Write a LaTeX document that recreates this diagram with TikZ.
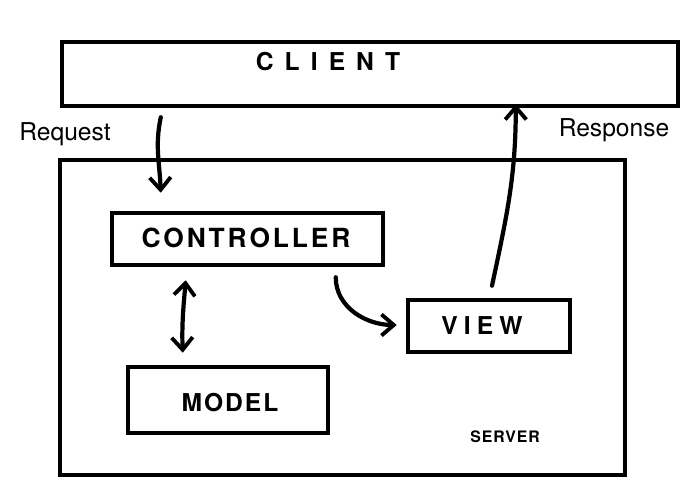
\documentclass[tikz,border=0pt]{standalone}
\usepackage{fontspec}
\setsansfont{TeX Gyre Heros}
\usepackage{tikz}
\usetikzlibrary{positioning,arrows.meta,calc}

\begin{document}
\begin{tikzpicture}[
  x=0.02cm,y=0.02cm,
  box/.style={rectangle,draw=black,line width=2.6pt,inner sep=0pt},
  boxtext/.style 2 args={font=\sffamily\bfseries\fontsize{#1}{#1}\selectfont\addfontfeature{LetterSpace=#2}},
  hand/.style={font=\sffamily\fontsize{14}{16}\selectfont},
  barb/.tip={Straight Barb[length=7pt,width=12pt,line width=2.2pt]},
  conn/.style={line width=2.4pt,line cap=round,-barb},
]
\useasboundingbox (0,0) rectangle (690,500);

% boxes
\node[box,minimum width=12.32cm,minimum height=1.28cm] (client) at (370,426) {};
\node[boxtext={14}{45}] at (328,438) {CLIENT};

\node[box,minimum width=11.3cm,minimum height=6.3cm] (server) at (342.5,182.5) {};
\node[boxtext={9}{6}] (srvlabel) at (505,63) {SERVER};

\node[box,minimum width=5.42cm,minimum height=1.04cm] (ctrl) at (247.5,261) {};
\node[boxtext={15}{11}] at (246,262) {CONTROLLER};

\node[box,minimum width=3.24cm,minimum height=1.04cm] (view) at (489,174) {};
\node[boxtext={14}{25}] at (482,174) {VIEW};

\node[box,minimum width=4.0cm,minimum height=1.32cm] (model) at (228,100) {};
\node[boxtext={14}{8}] at (230,97) {MODEL};

% labels
\node[hand] (req) at (65,366) {Request};
\node[hand] (resp) at (614,370) {Response};

% connectors
\coordinate (reqa) at ($(client.south west)+(101,-9)$);
\coordinate (reqb) at ($(ctrl.north west)+(51,18)$);
\draw[conn] (reqa) to[out=258,in=92] (reqb);

\coordinate (respa) at ($(view.north)+(3,12)$);
\coordinate (respb) at ($(client.south west)+(456,4)$);
\draw[conn] (respa) to[out=78,in=-90] (respb);

\coordinate (cva) at ($(ctrl.south west)+(226,-10)$);
\coordinate (cvb) at ($(view.west)+(-9,1)$);
\draw[conn] (cva) to[out=-90,in=180] (cvb);

\coordinate (cma) at ($(ctrl.south west)+(76,-13)$);
\coordinate (cmb) at ($(model.north west)+(57,12)$);
\draw[conn,barb-barb] (cma) to[out=-95,in=92] (cmb);
\end{tikzpicture}
\end{document}
